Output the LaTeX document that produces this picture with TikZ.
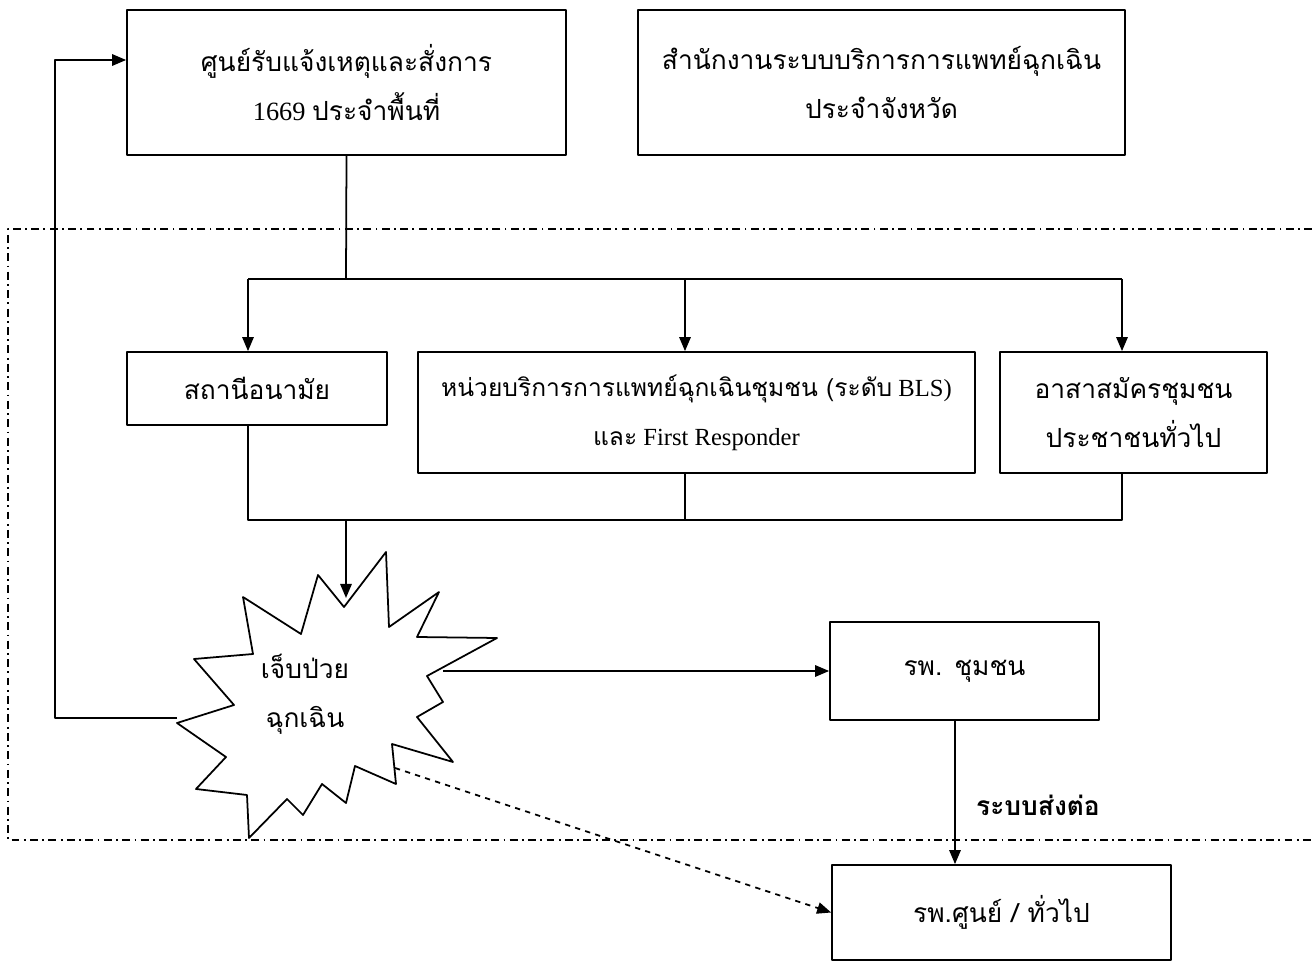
\documentclass[tikz,border=0pt]{standalone}
\usepackage{fontspec}
\setmainfont{Liberation Serif}
\newfontfamily\thaifont[Script=Thai]{Loma}
\usetikzlibrary{arrows.meta}
\begin{document}
\begin{tikzpicture}[x=0.02cm,y=-0.02cm,>={Triangle[length=8pt,width=6.5pt]},line join=round,
		font=\fontsize{15}{28}\selectfont,
		box/.style={draw,line width=1pt,align=center,inner sep=0pt},
		link/.style={line width=1pt}]
			\useasboundingbox (0,0) rectangle (1312,962);
			\draw[line width=1pt,dash pattern=on 4.5pt off 2.5pt on 1pt off 2.5pt] (1312,229)--(8,229)--(8,840)--(1312,840);
			
			\node[box,minimum width=8.78cm,minimum height=2.9cm] (center) at (346.5,82.5) {{\thaifont ศูนย์รับแจ้งเหตุและสั่งการ}\\1669 {\thaifont ประจำพื้นที่}};
			\node[box,minimum width=9.74cm,minimum height=2.9cm] (office) at (881.5,82.5) {\thaifont สำนักงานระบบบริการการแพทย์ฉุกเฉิน\\\thaifont ประจำจังหวัด};
			\node[box,minimum width=5.2cm,minimum height=1.46cm] (health) at (257,388.5) {\thaifont สถานีอนามัย};
			\node[box,minimum width=11.14cm,minimum height=2.42cm,font=\fontsize{14}{28}\selectfont] (bls) at (696.5,412.5) {{\thaifont หน่วยบริการการแพทย์ฉุกเฉินชุมชน (ระดับ} BLS)\\{\thaifont และ} First Responder};
			\node[box,minimum width=5.34cm,minimum height=2.42cm] (volunteer) at (1133.5,412.5) {\thaifont อาสาสมัครชุมชน\\\thaifont ประชาชนทั่วไป};
			\node[box,minimum width=5.38cm,minimum height=1.96cm] (community) at (964.5,671) {\thaifont รพ. ชุมชน};
			\node[box,minimum width=6.78cm,minimum height=1.9cm] (general) at (1001.5,912.5) {\thaifont รพ.ศูนย์ / ทั่วไป};
			
			\draw[line width=1pt] (318,575)--(344,607)--(386,552)--(389,627)--(439,592)--(417,637)--(497,638)--(427,676)--(443,702)--(417,717)--(453,762)--(392,744)--(396,784)--(355,766)--(346,803)--(322,784)--(303,815)--(287,799)--(249,838)--(247,795)--(196,789)--(226,757)--(177,723)--(234,705)--(194,659)--(253,654)--(243,597)--(301,634)--cycle;
			\node[align=center] (sick) at (305,694) {\thaifont เจ็บป่วย\\\thaifont ฉุกเฉิน};
			\node[font=\fontsize{15}{18}\selectfont\thaifont\bfseries] (refer) at (1038,805) {ระบบส่งต่อ};
			
			\coordinate (top) at (346,279);
			\coordinate (topl) at (248,279);
			\coordinate (topm) at (685,279);
			\coordinate (topr) at (1122,279);
			\coordinate (low) at (346,520);
			\coordinate (lowl) at (248,520);
			\coordinate (lowm) at (685,520);
			\coordinate (lowr) at (1122,520);
			\coordinate (sickn) at (346,598);
			\coordinate (sicke) at (443,671);
			\coordinate (sickse) at (395,768);
			\coordinate (sickw) at (177,718);
			\coordinate (back) at (55,60);
			
			\draw[link] (center.south)--(top);
			\draw[link] (topl)--(topr);
			\draw[link,->] (topl)--(topl |- health.north);
			\draw[link,->] (topm)--(topm |- bls.north);
			\draw[link,->] (topr)--(topr |- volunteer.north);
			\draw[link] (lowl |- health.south)--(lowl)--(lowr)--(lowr |- volunteer.south);
			\draw[link] (lowm |- bls.south)--(lowm);
			\draw[link,->] (low)--(sickn);
			\draw[link,->] (sicke)--(community.west |- sicke);
			\draw[link,->,dashed] (sickse)--(general.west);
			\draw[link,->] ([xshift=-0.19cm]community.south)--([xshift=-0.19cm]community.south |- general.north);
			\draw[link,->] (sickw)--(sickw -| back)--(back)--(back -| center.west);
		\end{tikzpicture}
\end{document}
